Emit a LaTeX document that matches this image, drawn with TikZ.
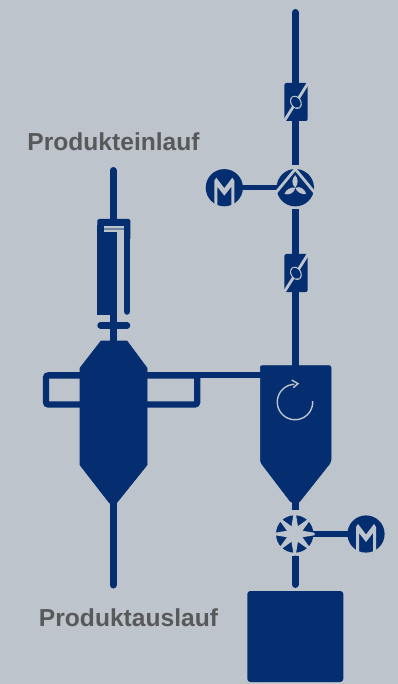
\documentclass[tikz,border=0pt]{standalone}
\usepackage{fontspec}
\setmainfont{Liberation Sans}
\definecolor{bluec}{HTML}{052E70}
\definecolor{bgc}{HTML}{BDC4CB}
\definecolor{textc}{HTML}{58595B}
\definecolor{midc}{HTML}{6F83A3}
\tikzset{
 pipe/.style={draw=bluec,line width=7pt,line cap=round},
 pipebutt/.style={draw=bluec,line width=7pt},
 thinpipe/.style={draw=bluec,line width=5.5pt},
 solidblue/.style={fill=bluec,draw=bluec,line width=.6pt,line join=round},
 caption/.style={font=\bfseries\fontsize{24.6}{28}\selectfont,text=textc,inner sep=0pt},
 motor/.pic={
  \fill[bluec] (0,0) circle (18.6);
  \fill[bgc] (-10,20) -- (-10,-7) -- (-8,-10) -- (0,0.5) -- (8,-10) -- (10,-7) -- (10,20) -- (7,20) -- (7,-1) -- (0,8) -- (-7,-1) -- (-7,20) -- cycle;
 },
 valve/.pic={
  \fill[bluec,rounded corners=2pt] (-11.3,-19) rectangle (12,19);
  \draw[bgc,line width=2.8pt] (-13,21.5) -- (14,-21.5);
  \fill[bgc,rotate=-58] (0.4,0) ellipse (7 and 5.4);
  \fill[bluec,rotate=-58] (0.4,0) ellipse (6 and 4.2);
 },
 fan/.pic={
  \fill[bluec] (0,0) circle (18.7);
  \draw[bgc,line width=2.8pt,line join=miter] (-20,5.7) -- (0,-18.6) -- (20,5.7);
  \foreach \r in {0,120,240}{
   \fill[bgc,rotate=\r] (0,0) .. controls (-4.4,-3.5) and (-3.4,-9.5) .. (0,-12.5) .. controls (3,-9.5) and (3.2,-3.5) .. (0,0) -- cycle;
  }
 },
 wheel/.pic={
  \fill[bluec] (0,0) circle (18.7);
  \foreach \r in {0,45,...,315}{
   \fill[bgc,rotate=\r] (-4.5,0) -- (-1.2,-20) -- (1.2,-20) -- (4.5,0) -- cycle;
  }
  \fill[bgc] (0,0) circle (6.5);
 },
}
\begin{document}
\begin{tikzpicture}[x=1pt,y=-1pt]
\fill[bgc] (0,0) rectangle (398,684);
\useasboundingbox (0,0) rectangle (398,684);
\node[caption] (lin) at (113.5,142) {Produkteinlauf};
\node[caption] (lout) at (128.5,618) {Produktauslauf};
\coordinate (rtop) at (295,12.5);
\coordinate (fanc) at (295.3,187.7);
\coordinate (motc) at (224.3,187.7);
\coordinate (wheelc) at (294.7,534);
\coordinate (motd) at (366,534);
\draw[pipe] (rtop) -- (295,90);
\draw[pipebutt] (295,115) -- (295,165);
\draw[pipebutt] (295,208.8) -- (295,370);
\draw[pipebutt] (295,495) -- (295,510);
\draw[pipe] (295,559) -- (295,584.5);
\draw[pipebutt] (295,555.8) -- (295,570);
\draw[thinpipe] (motc) -- (fanc);
\draw[thinpipe] (wheelc) -- (motd);
\pic at (295.7,102) {valve};
\pic at (295.7,273) {valve};
\pic at (fanc) {fan};
\pic at (motc) {motor};
\pic at (wheelc) {wheel};
\pic at (motd) {motor};
\draw[pipe] (113,170.5) -- (113,225);
\draw[pipebutt] (113,310) -- (113,345);
\draw[pipe] (113,500) -- (113,585);
\draw[line width=6.6pt,draw=bluec,line cap=round] (100.6,325.4) -- (127,325.4);
\fill[bluec,rounded corners=1.5pt] (97.3,219) rectangle (130.3,240);
\fill[bluec] (97.3,225) rectangle (117,315);
\draw[line width=6.6pt,draw=bluec,line cap=round] (127,225) -- (127,311.5);
\fill[bgc] (117,225.7) rectangle (123.7,316);
\fill[bgc] (103.7,225.7) rectangle (123.7,231.7);
\fill[midc] (103.7,227.8) rectangle (123.7,229.6);
\draw[draw=bluec,line width=6.4pt,rounded corners=2.5pt] (113,375.3) -- (46,375.3) -- (46,404.5) -- (197.2,404.5) -- (197.2,375.3) -- (113,375.3);
\draw[draw=bluec,line width=6.2pt] (190,375.3) -- (265,375.3);
\path[solidblue] (101,341) -- (127,341) -- (147,368) -- (147,465) -- (116.5,503) -- (109.5,503) -- (80,465) -- (80,368) -- cycle;
\path[solidblue,rounded corners=2pt] (260.3,365.6) -- (331,365.6) -- (331,462) -- (298.5,503) -- (291.5,503) -- (260.3,462) -- cycle;
\draw[bgc,line width=1.4pt] plot[domain=-3:268,samples=70,smooth] ({295+17.7*cos(\x)},{402+17.7*sin(\x)});
\draw[bgc,line width=1.4pt,line join=miter] (291.7,380) -- (298,383.6) -- (293.3,387.7);
\fill[bluec,rounded corners=3pt] (247.3,591) rectangle (343.3,682);
\end{tikzpicture}
\end{document}
